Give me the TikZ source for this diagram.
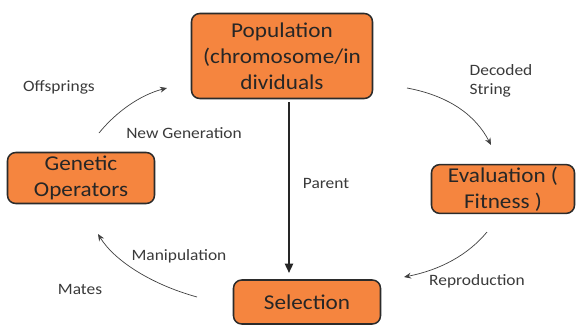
\documentclass[tikz,border=0pt]{standalone}
\usepackage{fontspec}
\setmainfont{Carlito}[FakeStretch=1.1]
\usetikzlibrary{positioning,arrows.meta}

\definecolor{boxorange}{HTML}{F5853F}
\definecolor{boxedge}{HTML}{2B2B2B}
\definecolor{labelgray}{HTML}{3A3A3A}

\tikzset{
    stagebox/.style={draw=boxedge, line width=1.3pt, fill=boxorange, rounded corners=7pt,
        align=center, font=\fontsize{18}{22}\selectfont, text=black!85, inner sep=2pt},
    lbl/.style={font=\fontsize{13.5}{16}\selectfont, text=labelgray, align=left},
    flow/.style={-{Stealth[length=6pt,width=5pt]}, draw=black!75, line width=0.6pt}
}

\begin{document}
\begin{tikzpicture}[x=0.03cm, y=-0.03cm]
    \useasboundingbox (0,0) rectangle (576,329);
    % Define nodes
    \node[stagebox, minimum width=181*0.03cm, minimum height=85*0.03cm] (pop) at (282,56)
        {Population\\(chromosome/in\\dividuals};
    \node[stagebox, minimum width=147*0.03cm, minimum height=51*0.03cm] (gen) at (81,178)
        {Genetic\\Operators};
    \node[stagebox, minimum width=143*0.03cm, minimum height=42*0.03cm] (eval) at (503,189)
        {Evaluation (\\Fitness )};
    \node[stagebox, minimum width=147*0.03cm, minimum height=44*0.03cm] (sel) at (307,302)
        {Selection};
    % Labels
    \node[lbl] (parent) at (326,183) {Parent};
    \node[lbl] (decoded) at (501,81) {Decoded\\String};
    \node[lbl] (repro) at (477,281) {Reproduction};
    \node[lbl] (manip) at (179,256) {Manipulation};
    \node[lbl] (mates) at (80,289) {Mates};
    \node[lbl] (newgen) at (184,133) {New Generation};
    \node[lbl] (offs) at (59,87) {Offsprings};
    % Arrow ends
    \coordinate (pa) at (289,102);
    \coordinate (pb) at (289,273);
    \coordinate (da) at (407,88);
    \coordinate (db) at (491,145);
    \coordinate (ra) at (487,232);
    \coordinate (rb) at (404,277);
    \coordinate (ma) at (197,297);
    \coordinate (mb) at (98,234);
    \coordinate (na) at (99,133);
    \coordinate (nb) at (167,88);
    % Connect nodes
    \draw[-{Triangle[length=8pt,width=7pt]}, line width=1.6pt, draw=black!85] (pa) -- (pb);
    \draw[flow] (da) .. controls (450,96) and (476,116) .. (db);
    \draw[flow] (ra) .. controls (468,255) and (440,270) .. (rb);
    \draw[flow] (ma) .. controls (150,284) and (114,260) .. (mb);
    \draw[flow] (na) .. controls (116,112) and (140,95) .. (nb);
\end{tikzpicture}
\end{document}
